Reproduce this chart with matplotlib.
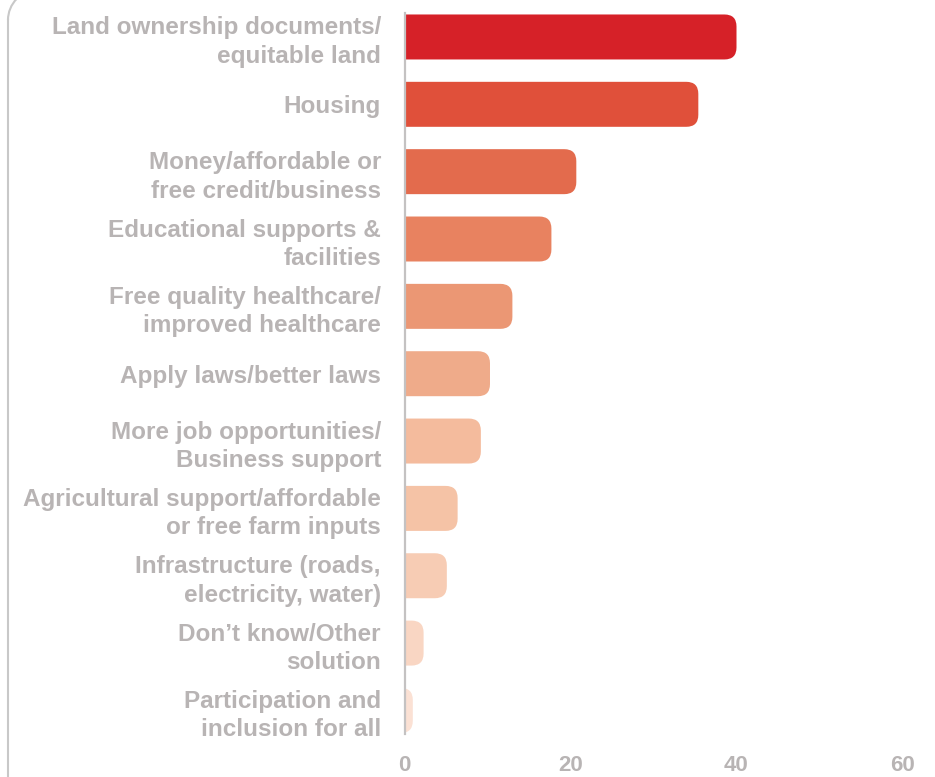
import matplotlib
matplotlib.use("Agg")
import matplotlib.pyplot as plt
from matplotlib.patches import FancyBboxPatch, Arc
from matplotlib.lines import Line2D
from matplotlib.transforms import IdentityTransform

# Share of responses per proposed solution (%)
solutions = [
    "Land ownership documents/\nequitable land",
    "Housing",
    "Money/affordable or\nfree credit/business",
    "Educational supports &\nfacilities",
    "Free quality healthcare/\nimproved healthcare",
    "Apply laws/better laws",
    "More job opportunities/\nBusiness support",
    "Agricultural support/affordable\nor free farm inputs",
    "Infrastructure (roads,\nelectricity, water)",
    "Don\u2019t know/Other\nsolution",
    "Participation and\ninclusion for all",
]
shares = [40.0, 35.4, 20.7, 17.7, 13.0, 10.3, 9.2, 6.4, 5.1, 2.3, 1.0]
bar_colors = ["#D62128", "#E0503A", "#E36B4D", "#E88260", "#EB9774", "#EFAB8A",
              "#F4BB9D", "#F5C3A6", "#F7CCB4", "#F9D6C3", "#FBE1D4"]
x_ticks = [0, 20, 40, 60]

GREY = "#B8B4B4"
plt.rcParams["font.family"] = ["Liberation Sans", "DejaVu Sans"]

W, H = 935, 777
fig = plt.figure(figsize=(W / 100, H / 100), dpi=100)
ax = fig.add_axes([404.5 / W, 1 - 734 / H, (902.5 - 404.5) / W, (734 - 13.4) / H])

ax.set_xlim(0, 60)
ax.set_ylim(10.35, -0.35)

# bars with rounded right ends; the left ends start past x=0 and get clipped
bar_h = 0.668
r_x = 1.45
aspect = (12 / 67.35) / r_x
for i, (v, c) in enumerate(zip(shares, bar_colors)):
    box = FancyBboxPatch((-3, i - bar_h / 2), v + 3, bar_h,
                         boxstyle=f"round,pad=0,rounding_size={r_x}",
                         mutation_aspect=aspect, fc=c, ec="none", zorder=2)
    ax.add_patch(box)

ax.set_yticks(range(len(solutions)))
ax.set_yticklabels(solutions, fontsize=17.5, fontweight="bold", color=GREY,
                   linespacing=1.3)
ax.set_xticks(x_ticks)
ax.set_xticklabels([str(t) for t in x_ticks], fontsize=16, fontweight="bold", color=GREY)
ax.tick_params(axis="y", length=0, pad=17)
ax.tick_params(axis="x", length=0, pad=15)

for side in ("top", "right", "bottom"):
    ax.spines[side].set_visible(False)
ax.spines["left"].set_color("#C4C2C2")
ax.spines["left"].set_linewidth(1.6)
ax.spines["left"].set_zorder(3)

# outer frame edge on the left, rounded at the top (display pixels)
frame_kw = dict(color="#C8C8C8", lw=1.5, transform=IdentityTransform())
r = 30
fig.lines.append(Line2D([8, 8], [-5, H - 20], **frame_kw))
fig.patches.append(Arc((8 + r, H - 20), 2 * r, 2 * r, theta1=90, theta2=180,
                       fill=False, **frame_kw))

fig.savefig("out.png", dpi=100)
